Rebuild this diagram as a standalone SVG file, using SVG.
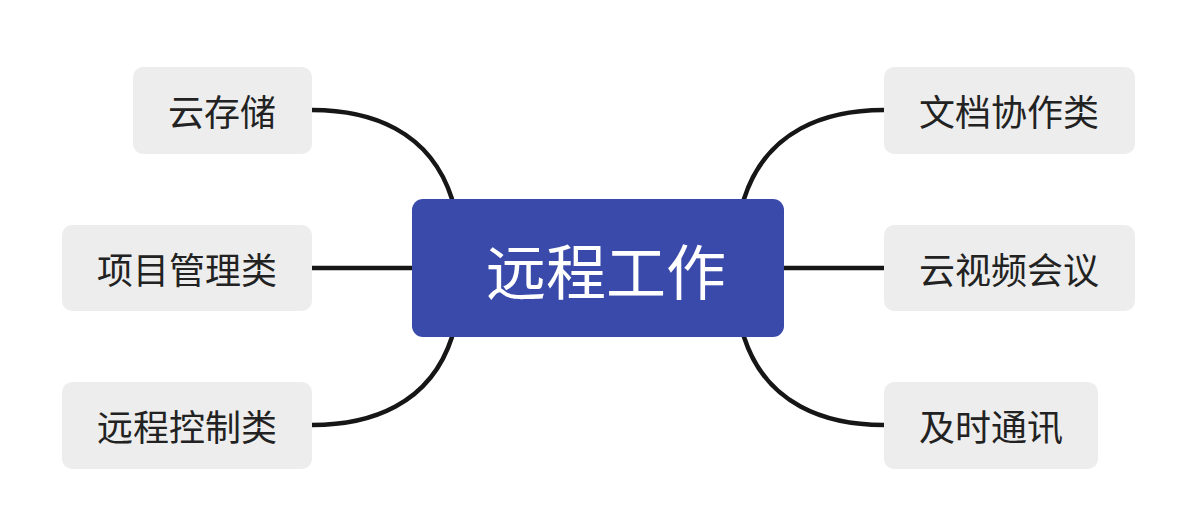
<svg xmlns="http://www.w3.org/2000/svg" width="1194" height="519" viewBox="0 0 1194 519">
<style>
.sub rect{fill:#ededed}
.sub text{font-family:"Noto Sans CJK SC","Noto Sans",sans-serif;font-size:36px;fill:#222;text-anchor:middle;dominant-baseline:central}
.conn path{fill:none;stroke:#161616;stroke-width:4.5;stroke-linecap:round}
</style>
<rect width="1194" height="519" fill="#fff"/>
<g id="connectors" class="conn">
<path d="M312 110 C370 110 430 130 452 199"/>
<path d="M312 268 L412 268"/>
<path d="M312 425 C370 425 430 405 452 337"/>
<path d="M884 110 C826 110 766 130 744 199"/>
<path d="M784 268 L884 268"/>
<path d="M884 425 C826 425 766 405 744 337"/>
</g>
<g id="center">
<rect x="412" y="199" width="372" height="138" rx="11" fill="#3a4aaa"/>
<text x="606" y="268" font-family="Noto Sans CJK SC,Noto Sans,sans-serif" font-size="60" fill="#fff" text-anchor="middle" dominant-baseline="central">远程工作</text>
</g>
<g id="n1" class="sub"><rect x="133" y="67" width="179" height="87" rx="10"/><text x="222" y="110">云存储</text></g>
<g id="n2" class="sub"><rect x="62" y="225" width="250" height="86" rx="10"/><text x="187" y="268">项目管理类</text></g>
<g id="n3" class="sub"><rect x="62" y="382" width="250" height="87" rx="10"/><text x="187" y="425">远程控制类</text></g>
<g id="n4" class="sub"><rect x="884" y="67" width="251" height="87" rx="10"/><text x="1009" y="110">文档协作类</text></g>
<g id="n5" class="sub"><rect x="884" y="225" width="251" height="86" rx="10"/><text x="1009" y="268">云视频会议</text></g>
<g id="n6" class="sub"><rect x="884" y="382" width="214" height="87" rx="10"/><text x="991" y="425">及时通讯</text></g>
</svg>
